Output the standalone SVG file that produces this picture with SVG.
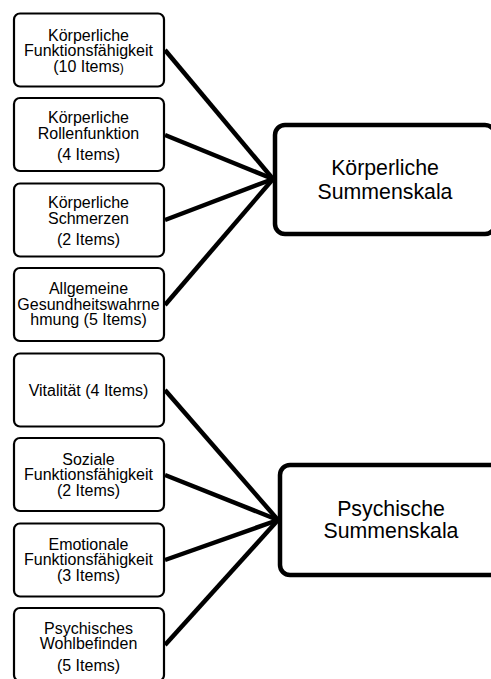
<svg xmlns="http://www.w3.org/2000/svg" width="491" height="679" viewBox="0 0 491 679">
<style>
.small rect{fill:#fff;stroke:#000;stroke-width:2.2}
.big rect{fill:#fff;stroke:#000;stroke-width:4.5}
text{font-family:"Liberation Sans",Arial,sans-serif;fill:#000;text-anchor:middle}
.small text{font-size:16px}
.big text{font-size:21.3px}
#connectors line{stroke:#000;stroke-width:4.5;stroke-linecap:butt}
</style>
<rect x="0" y="0" width="491" height="679" fill="#fff"/>
<g id="connectors">
<line x1="165" y1="50" x2="273" y2="179"/>
<line x1="165" y1="135" x2="273" y2="179"/>
<line x1="165" y1="220" x2="273" y2="179"/>
<line x1="165" y1="305" x2="273" y2="179"/>
<line x1="165" y1="390" x2="278" y2="520"/>
<line x1="165" y1="475" x2="278" y2="520"/>
<line x1="165" y1="560" x2="278" y2="520"/>
<line x1="165" y1="645" x2="278" y2="520"/>
</g>
<g id="n1" class="small"><rect x="14" y="13.5" width="150" height="73" rx="6"/>
<text x="88.5" y="40.5">Körperliche</text><text x="88.5" y="56">Funktionsfähigkeit</text><text x="88.5" y="71.5">(10 Items<tspan font-size="12">)</tspan></text></g>
<g id="n2" class="small"><rect x="14" y="98" width="150" height="73" rx="6"/>
<text x="88.5" y="123">Körperliche</text><text x="88.5" y="138.5">Rollenfunktion</text><text x="88.5" y="160">(4 Items)</text></g>
<g id="n3" class="small"><rect x="14" y="183.5" width="150" height="73" rx="6"/>
<text x="88.5" y="208">Körperliche</text><text x="88.5" y="223.5">Schmerzen</text><text x="88.5" y="245">(2 Items)</text></g>
<g id="n4" class="small"><rect x="14" y="268" width="150" height="73" rx="6"/>
<text x="88.5" y="294">Allgemeine</text><text x="88.5" y="309.5">Gesundheitswahrne</text><text x="88.5" y="325">hmung (5 Items)</text></g>
<g id="n5" class="small"><rect x="14" y="353.5" width="150" height="73" rx="6"/>
<text x="88.5" y="395.5">Vitalität (4 Items)</text></g>
<g id="n6" class="small"><rect x="14" y="438" width="150" height="73" rx="6"/>
<text x="88.5" y="464.5">Soziale</text><text x="88.5" y="480">Funktionsfähigkeit</text><text x="88.5" y="495.5">(2 Items)</text></g>
<g id="n7" class="small"><rect x="14" y="523.5" width="150" height="73" rx="6"/>
<text x="88.5" y="549.5">Emotionale</text><text x="88.5" y="565">Funktionsfähigkeit</text><text x="88.5" y="580.5">(3 Items)</text></g>
<g id="n8" class="small"><rect x="14" y="608" width="150" height="73" rx="6"/>
<text x="88.5" y="633.5">Psychisches</text><text x="88.5" y="649">Wohlbefinden</text><text x="88.5" y="670.5">(5 Items)</text></g>
<g id="k" class="big"><rect x="275" y="125" width="220" height="109" rx="10"/>
<text x="385" y="175">Körperliche</text><text x="385" y="198.5">Summenskala</text></g>
<g id="p" class="big"><rect x="280" y="465" width="222" height="110" rx="10"/>
<text x="391" y="515.5">Psychische</text><text x="391" y="538">Summenskala</text></g>
</svg>
